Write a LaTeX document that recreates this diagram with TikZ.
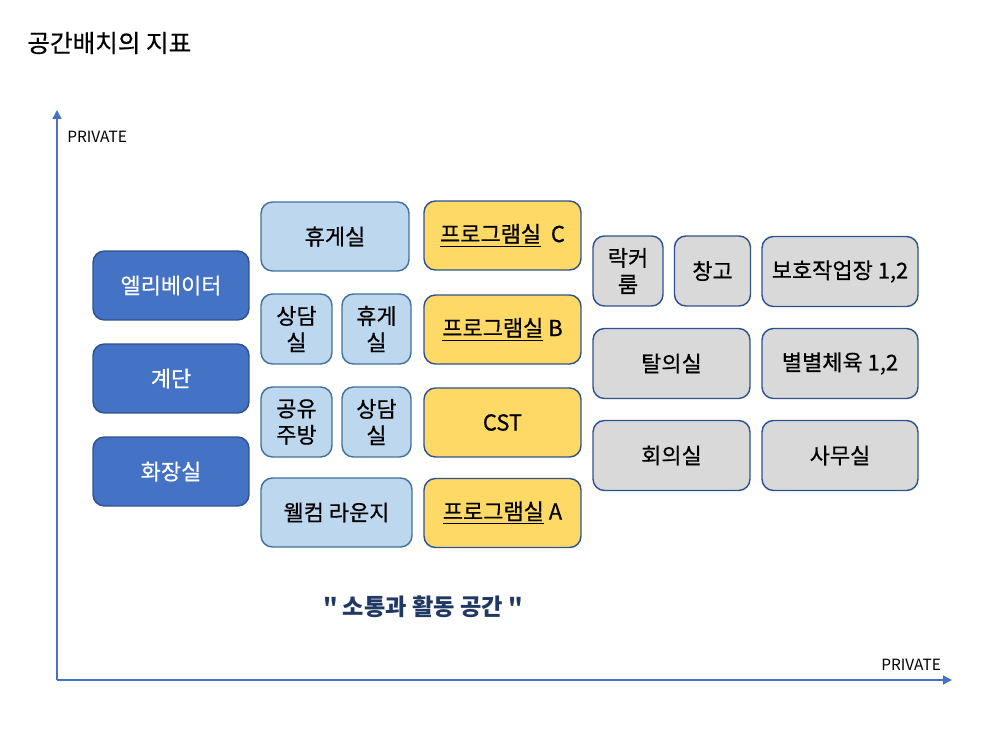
\documentclass[tikz,border=0pt]{standalone}
\usepackage{fontspec}
\setmainfont{Noto Sans CJK KR}[Ligatures=TeXOff]
\newfontfamily\medfont{Noto Sans CJK KR}[Ligatures=TeXOff, BoldFont=Noto Sans CJK KR, BoldFeatures={FakeBold=0.5}]
\usetikzlibrary{arrows.meta}
\definecolor{darkfill}{HTML}{4472C4}
\definecolor{darkline}{HTML}{2F528F}
\definecolor{lightfill}{HTML}{BDD7EE}
\definecolor{lightline}{HTML}{41719C}
\definecolor{yellowfill}{HTML}{FFD966}
\definecolor{grayfill}{HTML}{D9D9D9}
\definecolor{axiscol}{HTML}{4472C4}
\definecolor{slogan}{HTML}{203864}
\tikzset{
  room/.style={rectangle, rounded corners=6.5pt, line width=0.8pt, align=center,
    inner sep=1pt, font=\medfont\bfseries\fontsize{12.5}{15}\selectfont, text=black},
  darkbox/.style={room, fill=darkfill, draw=darkline, text=white,
    minimum width=3.12cm, minimum height=1.38cm},
  lightbox/.style={room, fill=lightfill, draw=lightline},
  yellowbox/.style={room, fill=yellowfill, draw=darkline,
    minimum width=3.14cm, minimum height=1.38cm},
  graybox/.style={room, fill=grayfill, draw=darkline},
  axislabel/.style={font=\fontsize{8.8}{10}\selectfont, text=black, inner sep=0pt},
  axisline/.style={draw=axiscol, line width=0.8pt}
}
\begin{document}
\begin{tikzpicture}[x=0.02cm, y=-0.02cm]
\useasboundingbox (0,0) rectangle (1000,750);
\fill[white] (0,0) rectangle (1000,750);

% title
\node[anchor=west, inner sep=0pt, font=\medfont\bfseries\fontsize{14}{16}\selectfont] (title) at (27,43) {공간배치의 지표};

% axes
\coordinate (origin) at (57,680);
\coordinate (ytop) at (57,110);
\coordinate (xend) at (952,680);
\draw[axisline, -{Triangle[width=5pt, length=5pt]}] (origin) -- (ytop);
\draw[axisline, -{Triangle[width=5pt, length=5pt]}] (origin) -- (xend);
\node[axislabel, anchor=west] (ylab) at (67,137) {PRIVATE};
\node[axislabel, anchor=west] (xlab) at (881,665) {PRIVATE};

% dark column
\node[darkbox] (elev) at (171,285.5) {엘리베이터};
\node[darkbox] (stair) at (171,378.5) {계단};
\node[darkbox] (wc) at (171,471.5) {화장실};

% light blue column
\node[lightbox, minimum width=2.96cm, minimum height=1.38cm] (rest1) at (335,236.5) {휴게실};
\node[lightbox, minimum width=1.42cm, minimum height=1.40cm] (consult1) at (296.5,329) {상담\\실};
\node[lightbox, minimum width=1.38cm, minimum height=1.40cm] (rest2) at (376.5,329) {휴게\\실};
\node[lightbox, minimum width=1.42cm, minimum height=1.40cm] (kitchen) at (296.5,422) {공유\\주방};
\node[lightbox, minimum width=1.38cm, minimum height=1.40cm] (consult2) at (376.5,422) {상담\\실};
\node[lightbox, minimum width=3.02cm, minimum height=1.38cm] (welcome) at (336.5,512.5) {웰컴 라운지};

% yellow column
\node[yellowbox] (progC) at (502.5,235.5) {\underline{프로그램실}\ \ C};
\node[yellowbox] (progB) at (502.5,329.5) {\underline{프로그램실} B};
\node[yellowbox] (cst) at (502.5,422.5) {CST};
\node[yellowbox] (progA) at (502.5,513) {\underline{프로그램실} A};

% gray columns
\node[graybox, minimum width=1.40cm, minimum height=1.40cm] (locker) at (628,271) {락커\\룸};
\node[graybox, minimum width=1.52cm, minimum height=1.40cm] (storage) at (712.5,271) {창고};
\node[graybox, minimum width=3.12cm, minimum height=1.40cm] (work) at (840,271.5) {보호작업장 1,2};
\node[graybox, minimum width=3.14cm, minimum height=1.40cm] (changing) at (671.5,363.5) {탈의실};
\node[graybox, minimum width=3.12cm, minimum height=1.40cm] (sport) at (840,363.5) {별별체육 1,2};
\node[graybox, minimum width=3.14cm, minimum height=1.40cm] (meeting) at (671.5,455.5) {회의실};
\node[graybox, minimum width=3.12cm, minimum height=1.40cm] (office) at (840,455.5) {사무실};

% slogan
\node[inner sep=0pt, text=slogan, font=\fontsize{13.2}{16}\selectfont\bfseries] (motto) at (423,607) {" 소통과 활동 공간 "};
\end{tikzpicture}
\end{document}
